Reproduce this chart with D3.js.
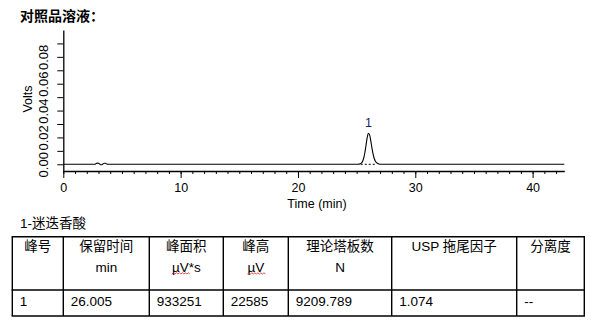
<!DOCTYPE html>
<html>
<head>
    <meta charset="utf-8">
    <title></title>
    <style>
        body { margin: 0; background: #fff; }
        text { font-family: "Liberation Sans", Arial, "Noto Sans CJK SC", sans-serif; fill: #000; }
        .cjk { font-family: "Liberation Sans", "Noto Sans CJK SC", sans-serif; }
    </style>
</head>
<body>
    <script src="https://cdn.jsdelivr.net/npm/d3@7/dist/d3.min.js"></script>
    <script>
        // chromatogram trace (time in min, signal in volts)
        var traceTime = [0, 2.7, 2.8, 2.9, 3.0, 3.1, 3.2, 3.3, 3.4, 3.5, 3.6, 3.7, 3.8,
            25.1, 25.2, 25.3, 25.4, 25.5, 25.6, 25.7, 25.8, 25.9, 26.0, 26.1, 26.2, 26.3,
            26.4, 26.5, 26.6, 26.7, 26.8, 26.9, 27.0, 42.7];
        var traceVolts = [0, 0, 0.0006, 0.0009, 0.0007, 0.0002, -0.0004, -0.0003, 0.0004, 0.0008, 0.0008, 0.0003, 0,
            0, 0.0001, 0.0004, 0.0009, 0.0021, 0.0045, 0.0086, 0.0142, 0.0198, 0.0231, 0.0221, 0.0178, 0.0124,
            0.0077, 0.0043, 0.0023, 0.0012, 0.0006, 0.0002, 0, 0];
        var peakTimes = [26.0];
        var peakVolts = [0.0231];
        var peakNames = ["1"];
        var baselineStart = [25.35];
        var baselineEnd = [26.6];

        var xMajorTicks = [0, 10, 20, 30, 40];
        var xMinorTicks = d3.range(0, 43, 1);
        var yTicks = [0, 0.01, 0.02, 0.03, 0.04, 0.05, 0.06, 0.07, 0.08, 0.09];
        var yLabelTicks = [0, 0.02, 0.04, 0.06, 0.08];

        var title = "对照品溶液：";
        var compoundNote = "1-迷迭香酸";
        var headerLine1 = ["峰号", "保留时间", "峰面积", "峰高", "理论塔板数", "USP 拖尾因子", "分离度"];
        var headerLine2 = ["", "min", "µV*s", "µV", "N", "", ""];
        var squiggly = [false, false, true, true, false, false, false];
        var rowValues = ["1", "26.005", "933251", "22585", "9209.789", "1.074", "--"];

        var width = 605, height = 332;
        var svg = d3.select("body").append("svg")
            .attr("width", width)
            .attr("height", height);

        var x = d3.scaleLinear().domain([0, 42.7]).range([63.3, 564.3]);
        var y = d3.scaleLinear().domain([-0.005, 0.1]).range([171, 30]);

        svg.append("text")
            .attr("class", "cjk")
            .attr("x", 20)
            .attr("y", 21)
            .attr("font-size", 14)
            .attr("font-weight", "bold")
            .text(title);

        // x axis: minor ticks every minute, major every 10
        svg.append("g")
            .attr("transform", "translate(0," + y(-0.005) + ")")
            .call(d3.axisBottom(x).tickValues(xMinorTicks).tickSize(3).tickSizeOuter(0).tickFormat(""))
            .call(function(g) {
                g.select(".domain").attr("stroke-width", 1.3);
            });
        var xMajor = svg.append("g")
            .attr("transform", "translate(0," + y(-0.005) + ")")
            .call(d3.axisBottom(x).tickValues(xMajorTicks).tickSize(7).tickSizeOuter(0).tickPadding(4).tickFormat(d3.format("d")));
        xMajor.select(".domain").remove();
        xMajor.selectAll("text")
            .attr("font-size", 12.5)
            .attr("font-family", null)
            .attr("dy", null)
            .attr("y", 21);

        // y axis
        var yAxis = svg.append("g")
            .attr("transform", "translate(" + x(0) + ",0)")
            .call(d3.axisLeft(y).tickValues(yTicks).tickSize(6).tickSizeOuter(0).tickFormat(function(d) {
                return yLabelTicks.some(function(v) { return Math.abs(v - d) < 1e-9; }) ? d3.format(".2f")(d) : "";
            }));
        yAxis.select(".domain").attr("stroke-width", 1.3);
        yAxis.selectAll("text")
            .attr("font-size", 13)
            .attr("font-family", null)
            .attr("text-anchor", "middle")
            .attr("dy", null)
            .attr("x", 0)
            .attr("y", -15)
            .attr("transform", "rotate(-90)");

        svg.append("text")
            .attr("transform", "translate(32,99) rotate(-90)")
            .attr("text-anchor", "middle")
            .attr("font-size", 12.5)
            .text("Volts");

        svg.append("text")
            .attr("x", 317)
            .attr("y", 208)
            .attr("text-anchor", "middle")
            .attr("font-size", 12.5)
            .text("Time (min)");

        // trace
        var pts = traceTime.map(function(t, i) { return [t, traceVolts[i]]; });
        var line = d3.line()
            .x(function(d) { return x(d[0]); })
            .y(function(d) { return y(d[1]); })
            .curve(d3.curveMonotoneX);
        svg.append("path")
            .datum(pts)
            .attr("fill", "none")
            .attr("stroke", "#000")
            .attr("stroke-width", 1.1)
            .attr("d", line);

        // integration baseline
        svg.selectAll(".base")
            .data(baselineStart)
            .enter().append("line")
            .attr("class", "base")
            .attr("x1", function(d) { return x(d); })
            .attr("x2", function(d, i) { return x(baselineEnd[i]); })
            .attr("y1", y(0))
            .attr("y2", y(0))
            .attr("stroke", "#000")
            .attr("stroke-dasharray", "2,2");

        svg.selectAll(".peak")
            .data(peakTimes)
            .enter().append("text")
            .attr("class", "peak")
            .attr("x", function(d) { return x(d); })
            .attr("y", function(d, i) { return y(peakVolts[i]) - 6; })
            .attr("text-anchor", "middle")
            .attr("font-size", 12.5)
            .style("fill", "#1c1c5c")
            .text(function(d, i) { return peakNames[i]; });

        svg.append("text")
            .attr("class", "cjk")
            .attr("x", 20)
            .attr("y", 228)
            .attr("font-size", 13.5)
            .text(compoundNote);

        // results table
        var colEdges = [12.3, 63.3, 149.3, 223.3, 288.3, 391.7, 516.7, 584.3];
        var rowEdges = [236.7, 290, 316];
        var table = svg.append("g");
        table.selectAll(".hline")
            .data(rowEdges)
            .enter().append("line")
            .attr("x1", colEdges[0] - 0.7)
            .attr("x2", colEdges[colEdges.length - 1] + 0.7)
            .attr("y1", function(d) { return d; })
            .attr("y2", function(d) { return d; })
            .attr("stroke", "#000")
            .attr("stroke-width", 1.4);
        table.selectAll(".vline")
            .data(colEdges)
            .enter().append("line")
            .attr("x1", function(d) { return d; })
            .attr("x2", function(d) { return d; })
            .attr("y1", rowEdges[0])
            .attr("y2", rowEdges[rowEdges.length - 1])
            .attr("stroke", "#000")
            .attr("stroke-width", 1.4);

        headerLine1.forEach(function(h, i) {
            var cx = (colEdges[i] + colEdges[i + 1]) / 2;
            table.append("text")
                .attr("class", "cjk")
                .attr("x", cx)
                .attr("y", 251)
                .attr("text-anchor", "middle")
                .attr("font-size", 13.5)
                .text(h);
            if (headerLine2[i]) {
                var t = table.append("text")
                    .attr("x", cx)
                    .attr("y", 271.5)
                    .attr("text-anchor", "middle")
                    .attr("font-size", 13.5)
                    .text(headerLine2[i]);
                if (squiggly[i]) {
                    var bb = t.node().getBBox();
                    var x0 = bb.x, x1 = bb.x + bb.width;
                    if (headerLine2[i].indexOf("*") > 0) x1 = x0 + 18;
                    var d = "M" + x0 + ",274";
                    for (var sx = x0, k = 0; sx < x1; sx += 1.5, k++) {
                        d += "L" + (sx + 1.5) + "," + (k % 2 ? 274 : 272.8);
                    }
                    table.append("path")
                        .attr("d", d)
                        .attr("fill", "none")
                        .attr("stroke", "#e02020")
                        .attr("stroke-width", 0.8);
                }
            }
        });

        rowValues.forEach(function(v, i) {
            table.append("text")
                .attr("x", colEdges[i] + 7.5)
                .attr("y", 305.7)
                .attr("font-size", 13.5)
                .text(v);
        });
    </script>
</body>
</html>
